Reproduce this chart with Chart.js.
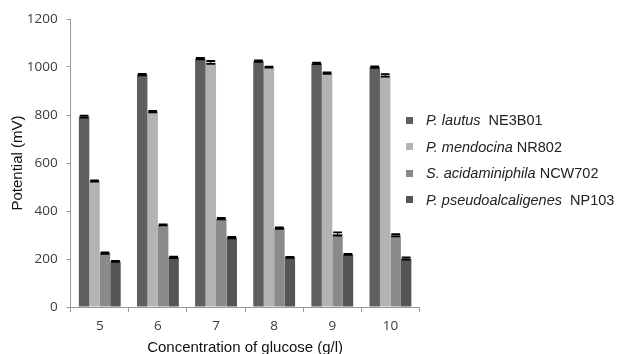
<!DOCTYPE html>
<html>
<head>
<meta charset="utf-8">
<script src="https://cdn.jsdelivr.net/npm/chart.js@4.4.0/dist/chart.umd.min.js"></script>
<style>
  html, body { margin: 0; padding: 0; background: #fff; }
  #wrap { position: relative; width: 624px; height: 354px; overflow: hidden; }
  #grafico { position: absolute; left: 0; top: 0; }
  .leg { position: absolute; left: 406px; height: 16px; font: 14.5px "Liberation Sans", Arial, sans-serif; color: #222; white-space: pre; }
  .leg span.q { position: absolute; left: 0; top: 4.5px; width: 7px; height: 7px; }
  .leg span.t { position: absolute; left: 20px; top: 0; line-height: 16px; }
</style>
</head>
<body>
<div id="wrap">
  <canvas id="grafico" width="624" height="354"></canvas>
  <div id="legenda"></div>
</div>
<script>
// categorias (g/l de glicose)
const categorias = ["5", "6", "7", "8", "9", "10"];

// potencial (mV) por cepa
const lautus = [793, 968, 1035, 1024, 1015, 999];
const mendocina = [525, 814, 1019, 999, 974, 965];
const acidaminiphila = [224, 342, 368, 329, 304, 299];
const pseudoalcaligenes = [190, 207, 289, 207, 219, 202];

// barras de erro
const erroLautus = [4, 3, 3, 3, 3, 3];
const erroMendocina = [3, 3, 6, 2, 3, 5];
const erroAcid = [3, 2, 3, 3, 7, 5];
const erroPseudo = [2, 3, 3, 2, 2, 5];

const ticksY = [0, 200, 400, 600, 800, 1000, 1200];

const legendas = [
  { it: "P. lautus", nome: "  NE3B01", cor: "#5f5f5f" },
  { it: "P. mendocina", nome: " NR802", cor: "#b3b3b3" },
  { it: "S. acidaminiphila", nome: " NCW702", cor: "#8a8a8a" },
  { it: "P. pseudoalcaligenes", nome: "  NP103", cor: "#555555" },
];
const linhasLegenda = [120, 146.5, 173, 199.5];

// legenda em html (mistura italico e normal)
const leg = document.getElementById("legenda");
legendas.forEach((l, i) => {
  const d = document.createElement("div");
  d.className = "leg";
  d.style.top = (linhasLegenda[i] - 8) + "px";
  d.innerHTML = `<span class="q" style="background:${l.cor}"></span><span class="t"><i>${l.it}</i>${l.nome}</span>`;
  leg.appendChild(d);
});

const erros = [erroLautus, erroMendocina, erroAcid, erroPseudo];

const barrasErro = {
  id: "barrasErro",
  afterDatasetsDraw(chart) {
    const c = chart.ctx;
    const y = chart.scales.y;
    c.save();
    c.strokeStyle = "#000";
    chart.data.datasets.forEach((ds, i) => {
      const meta = chart.getDatasetMeta(i);
      meta.data.forEach((bar, j) => {
        const v = ds.data[j];
        const e = erros[i][j];
        const yt = y.getPixelForValue(v + e);
        const yb = y.getPixelForValue(v - e);
        const w = bar.width * 0.42;
        c.lineWidth = 1;
        c.beginPath();
        c.moveTo(bar.x, yt);
        c.lineTo(bar.x, yb);
        c.stroke();
        c.lineWidth = 1.8;
        c.beginPath();
        c.moveTo(bar.x - w, yt);
        c.lineTo(bar.x + w, yt);
        c.moveTo(bar.x - w, yb);
        c.lineTo(bar.x + w, yb);
        c.stroke();
      });
    });
    c.restore();
  },
};

const series = [lautus, mendocina, acidaminiphila, pseudoalcaligenes];

const ctx = document.getElementById("grafico").getContext("2d");
const grafico = new Chart(ctx, {
  type: "bar",
  data: {
    labels: categorias,
    datasets: series.map((s, i) => ({
      label: legendas[i].it + legendas[i].nome,
      data: s,
      backgroundColor: legendas[i].cor,
      borderWidth: 0,
      barPercentage: 1,
      categoryPercentage: 0.72,
    })),
  },
  options: {
    responsive: false,
    animation: false,
    events: [],
    layout: { padding: { top: 19, right: 204.5, bottom: 0, left: 0 } },
    plugins: { legend: { display: false }, tooltip: { enabled: false } },
    scales: {
      x: {
        grid: { display: true, drawOnChartArea: false, drawTicks: true, tickLength: 5, color: "#9a9a9a", offset: true },
        border: { color: "#9a9a9a", width: 1 },
        ticks: { color: "#3a3a3a", padding: 6, font: { family: "Open Sans", size: 13.5 } },
        title: {
          display: true,
          text: "Concentration of glucose (g/l)",
          color: "#111",
          font: { family: "Liberation Sans", size: 15, lineHeight: 1 },
          padding: { top: 0, bottom: -1 },
        },
        afterFit(s) { s.height = 47; },
      },
      y: {
        min: 0,
        max: 1200,
        afterBuildTicks(s) { s.ticks = ticksY.map((v) => ({ value: v })); },
        grid: { display: true, drawOnChartArea: false, drawTicks: true, tickLength: 4, color: "#9a9a9a" },
        border: { color: "#9a9a9a", width: 1 },
        ticks: {
          color: "#3a3a3a",
          padding: 9,
          font: { family: "Open Sans", size: 13.5 },
          callback: (v) => String(v),
        },
        title: {
          display: true,
          text: "Potential (mV)",
          color: "#111",
          font: { family: "Liberation Sans", size: 15, lineHeight: 1.2 },
          padding: { top: 9, bottom: 0 },
        },
        afterFit(s) { s.width = 70.7; },
      },
    },
  },
  plugins: [barrasErro],
});
</script>
</body>
</html>
